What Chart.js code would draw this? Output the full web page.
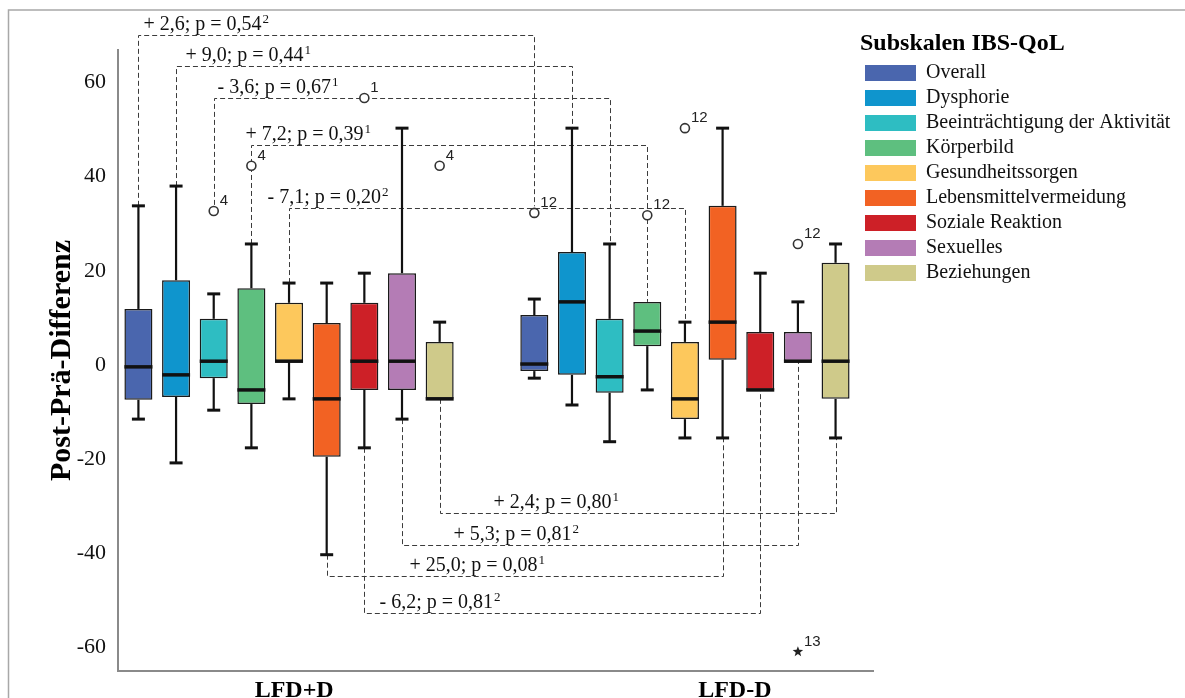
<!DOCTYPE html>
<html>
<head>
<meta charset="utf-8">
<script src="https://cdn.jsdelivr.net/npm/chart.js@4.4.1/dist/chart.umd.min.js"></script>
<style>
  html, body { margin: 0; padding: 0; background: #fff; }
  #wrap { position: relative; width: 1185px; height: 698px; }
</style>
</head>
<body>
<div id="wrap"><canvas id="chart" width="1185" height="698"></canvas></div>
<script>
// Groups on the x axis and the IBS-QoL subscales (one box per subscale and group)
const groups = ['LFD+D', 'LFD-D'];
const subscales = [
  'Overall', 'Dysphorie', 'Beeinträchtigung der Aktivität', 'Körperbild',
  'Gesundheitssorgen', 'Lebensmittelvermeidung', 'Soziale Reaktion', 'Sexuelles', 'Beziehungen'
];
const subscaleColors = [
  '#4a66ae', '#0f95cd', '#2ebdc2', '#5ebf7f', '#fdc85c', '#f26223', '#cd2027', '#b47cb5', '#cfca8a'
];

// Box statistics, group LFD+D
const lowerPlus  = [-11.5, -20.8,  -9.6, -17.6, -7.2, -40.3, -17.6, -11.5, -7.2];
const q1Plus     = [ -7.4,  -6.8,  -2.8,  -8.3,  0.8, -19.5,  -5.3,  -5.3, -7.2];
const medianPlus = [ -0.4,  -2.1,   0.8,  -5.3,  0.8,  -7.2,   0.8,   0.8, -7.2];
const q3Plus     = [ 11.9,  18.0,   9.8,  16.3, 13.2,   8.9,  13.2,  19.5,  4.9];
const upperPlus  = [ 33.8,  38.0,  15.1,  25.7, 17.4,  17.4,  19.5,  50.3,  9.1];

// Box statistics, group LFD-D
const lowerMinus  = [-2.8, -8.5, -16.3, -5.3, -15.5, -15.5, -5.3, 0.8, -15.5];
const q1Minus     = [-1.3, -2.1,  -5.9,  4.0, -11.5,   1.1, -5.3, 0.8,  -7.2];
const medianMinus = [ 0.2, 13.4,  -2.5,  7.2,  -7.2,   9.1, -5.3, 0.8,   0.8];
const q3Minus     = [10.6, 24.0,   9.8, 13.4,   4.9,  33.8,  7.0, 7.0,  21.7];
const upperMinus  = [14.0, 50.3,  25.7, 13.4,   9.1,  50.3, 19.5, 13.4, 25.7];

// Outliers (circle) and extreme values (star) with their case numbers
const outlierGroup   = [0, 0, 0, 0, 1, 1, 1, 1, 1];
const outlierSeries  = [2, 3, 6, 8, 0, 3, 4, 7, 7];
const outlierValue   = [32.7, 42.3, 56.7, 42.3, 32.3, 31.8, 50.3, 25.7, -60.9];
const outlierCase    = ['4', '4', '1', '4', '12', '12', '12', '12', '13'];
const outlierExtreme = [false, false, false, false, false, false, false, false, true];

// Group comparisons per subscale: change difference, p value and test marker
const diffText   = ['+ 2,6; p = 0,54', '+ 9,0; p = 0,44', '- 3,6; p = 0,67', '+ 7,2; p = 0,39', '- 7,1; p = 0,20',
                    '+ 2,4; p = 0,80', '+ 5,3; p = 0,81', '+ 25,0; p = 0,08', '- 6,2; p = 0,81'];
const diffTest   = ['2', '1', '1', '1', '2', '1', '2', '1', '2'];
const diffSeries = [0, 1, 2, 3, 4, 8, 7, 5, 6];
const diffLevel  = [70.0, 63.5, 56.8, 46.7, 33.3, -31.5, -38.2, -44.8, -52.7];
const diffFromA  = [33.8, 38.0, 34.0, 25.7, 17.4, -7.2, -11.5, -40.3, -17.6];
const diffFromB  = [33.7, 50.3, 25.7, 13.4, 9.1, -15.5, 0.8, -15.5, -5.3];

const yTicks = [-60, -40, -20, 0, 20, 40, 60];

// Layout helpers (pixels): label shift along each comparison bracket, axis label anchors
const diffLabelShift = [5, 9, 3, -6, -22, 53, 51, 82, 15];
const groupLabelAt = [0.013, 1.126];

const groupStats = [
  { low: lowerPlus,  q1: q1Plus,  med: medianPlus,  q3: q3Plus,  high: upperPlus },
  { low: lowerMinus, q1: q1Minus, med: medianMinus, q3: q3Minus, high: upperMinus }
];

const datasets = subscales.map((name, i) => ({
  label: name,
  backgroundColor: subscaleColors[i],
  borderColor: '#1a1a1a',
  borderWidth: 1.5,
  borderSkipped: false,
  categoryPercentage: 0.856,
  barPercentage: 0.744,
  data: groupStats.map((s, g) => ({ x: g, y: [s.q1[i], s.q3[i]] }))
}));

const SERIF = '"Liberation Serif", "Times New Roman", serif';
const SANS = '"Liberation Sans", Arial, sans-serif';

function drawStar(ctx, cx, cy, outer, inner) {
  ctx.beginPath();
  for (let k = 0; k < 10; k++) {
    const r = k % 2 === 0 ? outer : inner;
    const a = -Math.PI / 2 + k * Math.PI / 5;
    const px = cx + r * Math.cos(a), py = cy + r * Math.sin(a);
    if (k === 0) ctx.moveTo(px, py); else ctx.lineTo(px, py);
  }
  ctx.closePath();
  ctx.fill();
}

const boxPlotParts = {
  id: 'boxPlotParts',
  beforeDraw(chart) {
    const ctx = chart.ctx;
    ctx.save();
    ctx.fillStyle = '#ffffff';
    ctx.fillRect(0, 0, chart.width, chart.height);
    ctx.strokeStyle = '#a8a8a8';
    ctx.lineWidth = 1.5;
    ctx.beginPath();
    ctx.moveTo(8.5, chart.height);
    ctx.lineTo(8.5, 10);
    ctx.lineTo(chart.width, 10);
    ctx.stroke();
    ctx.restore();
  },
  afterLayout(chart) {
    const lg = chart.legend;
    if (!lg) return;
    const w = lg.width;
    lg.left = 860; lg.right = 860 + w;
    lg.top = 32;
  },
  beforeDatasetsDraw(chart) {
    const ctx = chart.ctx, ys = chart.scales.y;
    ctx.save();
    diffSeries.forEach((s, k) => {
      const meta = chart.getDatasetMeta(s);
      const xa = Math.round(meta.data[0].x) + 0.5;
      const xb = Math.round(meta.data[1].x) + 0.5;
      const yl = Math.round(ys.getPixelForValue(diffLevel[k])) + 0.5;
      ctx.setLineDash([5, 3]);
      ctx.strokeStyle = '#3c3c3c';
      ctx.lineWidth = 1;
      ctx.beginPath();
      ctx.moveTo(xa, ys.getPixelForValue(diffFromA[k]));
      ctx.lineTo(xa, yl);
      ctx.lineTo(xb, yl);
      ctx.lineTo(xb, ys.getPixelForValue(diffFromB[k]));
      ctx.stroke();
      ctx.setLineDash([]);
      const tx = xa + diffLabelShift[k], ty = yl - 6;
      ctx.fillStyle = '#111';
      ctx.textAlign = 'left';
      ctx.textBaseline = 'alphabetic';
      ctx.font = '20px ' + SERIF;
      ctx.fillText(diffText[k], tx, ty);
      const w = ctx.measureText(diffText[k]).width;
      ctx.font = '13px ' + SERIF;
      ctx.fillText(diffTest[k], tx + w + 1, ty - 7);
    });
    ctx.restore();
  },
  afterDatasetsDraw(chart) {
    const ctx = chart.ctx, ys = chart.scales.y;
    ctx.save();
    ctx.strokeStyle = '#111';
    subscales.forEach((_, i) => {
      const meta = chart.getDatasetMeta(i);
      groupStats.forEach((s, g) => {
        const bar = meta.data[g];
        const x = bar.x, w = bar.width;
        const pHigh = ys.getPixelForValue(s.high[i]);
        const pQ3 = ys.getPixelForValue(s.q3[i]);
        const pQ1 = ys.getPixelForValue(s.q1[i]);
        const pLow = ys.getPixelForValue(s.low[i]);
        const pMed = ys.getPixelForValue(s.med[i]);
        ctx.lineCap = 'butt';
        if (s.high[i] > s.q3[i]) {
          ctx.lineWidth = 2.2;
          ctx.beginPath(); ctx.moveTo(x, pQ3); ctx.lineTo(x, pHigh); ctx.stroke();
          ctx.lineWidth = 3;
          ctx.beginPath(); ctx.moveTo(x - 6.5, pHigh); ctx.lineTo(x + 6.5, pHigh); ctx.stroke();
        }
        if (s.low[i] < s.q1[i]) {
          ctx.lineWidth = 2.2;
          ctx.beginPath(); ctx.moveTo(x, pQ1); ctx.lineTo(x, pLow); ctx.stroke();
          ctx.lineWidth = 3;
          ctx.beginPath(); ctx.moveTo(x - 6.5, pLow); ctx.lineTo(x + 6.5, pLow); ctx.stroke();
        }
        ctx.lineWidth = 3.5;
        ctx.beginPath(); ctx.moveTo(x - w / 2, pMed); ctx.lineTo(x + w / 2, pMed); ctx.stroke();
      });
    });
    outlierValue.forEach((v, k) => {
      const bar = chart.getDatasetMeta(outlierSeries[k]).data[outlierGroup[k]];
      const x = bar.x, y = ys.getPixelForValue(v);
      if (outlierExtreme[k]) {
        ctx.fillStyle = '#222';
        drawStar(ctx, x, y, 5.5, 2.3);
      } else {
        ctx.fillStyle = '#fff';
        ctx.strokeStyle = '#333';
        ctx.lineWidth = 1.6;
        ctx.beginPath(); ctx.arc(x, y, 4.5, 0, Math.PI * 2); ctx.fill(); ctx.stroke();
      }
      ctx.fillStyle = '#222';
      ctx.font = '15px ' + SANS;
      ctx.textAlign = 'left';
      ctx.textBaseline = 'alphabetic';
      ctx.fillText(outlierCase[k], x + 6, y - 6);
    });
    ctx.restore();
  }
};

Chart.defaults.font.family = SERIF;
Chart.defaults.color = '#111';

new Chart(document.getElementById('chart'), {
  type: 'bar',
  data: { datasets },
  plugins: [boxPlotParts],
  options: {
    responsive: false,
    animation: false,
    devicePixelRatio: 1,
    layout: { padding: { top: 50, left: 0, right: 0, bottom: 0 } },
    plugins: {
      tooltip: { enabled: false },
      legend: {
        position: 'right',
        align: 'start',
        maxWidth: 312,
        title: {
          display: true,
          text: 'Subskalen IBS-QoL',
          position: 'start',
          color: '#000',
          font: { family: SERIF, size: 24, weight: 'bold', lineHeight: 1 },
          padding: { top: 0, bottom: 2 }
        },
        labels: {
          boxWidth: 51,
          boxHeight: 16,
          padding: 5,
          color: '#111',
          font: { family: SERIF, size: 20 },
          generateLabels(chart) {
            return Chart.defaults.plugins.legend.labels.generateLabels(chart)
              .map(item => Object.assign(item, { lineWidth: 0, strokeStyle: 'rgba(0,0,0,0)' }));
          }
        }
      }
    },
    scales: {
      x: {
        type: 'linear',
        min: -0.432,
        max: 1.475,
        offset: false,
        grid: { display: false, drawTicks: false, offset: false },
        border: { display: true, color: '#8a8a8a', width: 2 },
        afterBuildTicks: scale => { scale.ticks = groupLabelAt.map(v => ({ value: v })); },
        afterFit: scale => { scale.height = 27; },
        ticks: {
          autoSkip: false,
          maxRotation: 0,
          minRotation: 0,
          padding: 5,
          color: '#000',
          font: { family: SERIF, size: 24, weight: 'bold' },
          callback: (value, index) => groups[index]
        }
      },
      y: {
        min: -65,
        max: 66.9,
        grid: { display: false, drawTicks: false },
        border: { display: true, color: '#8a8a8a', width: 2 },
        afterBuildTicks: scale => { scale.ticks = yTicks.map(v => ({ value: v })); },
        afterFit: scale => { scale.width = 118; },
        ticks: {
          padding: 12,
          color: '#111',
          font: { family: SERIF, size: 22 },
          callback: value => String(value)
        },
        title: {
          display: true,
          text: 'Post-Prä-Differenz',
          color: '#000',
          font: { family: SERIF, size: 30, weight: 'bold', lineHeight: 1 },
          padding: { top: 47, bottom: 0 }
        }
      }
    }
  }
});
</script>
</body>
</html>
